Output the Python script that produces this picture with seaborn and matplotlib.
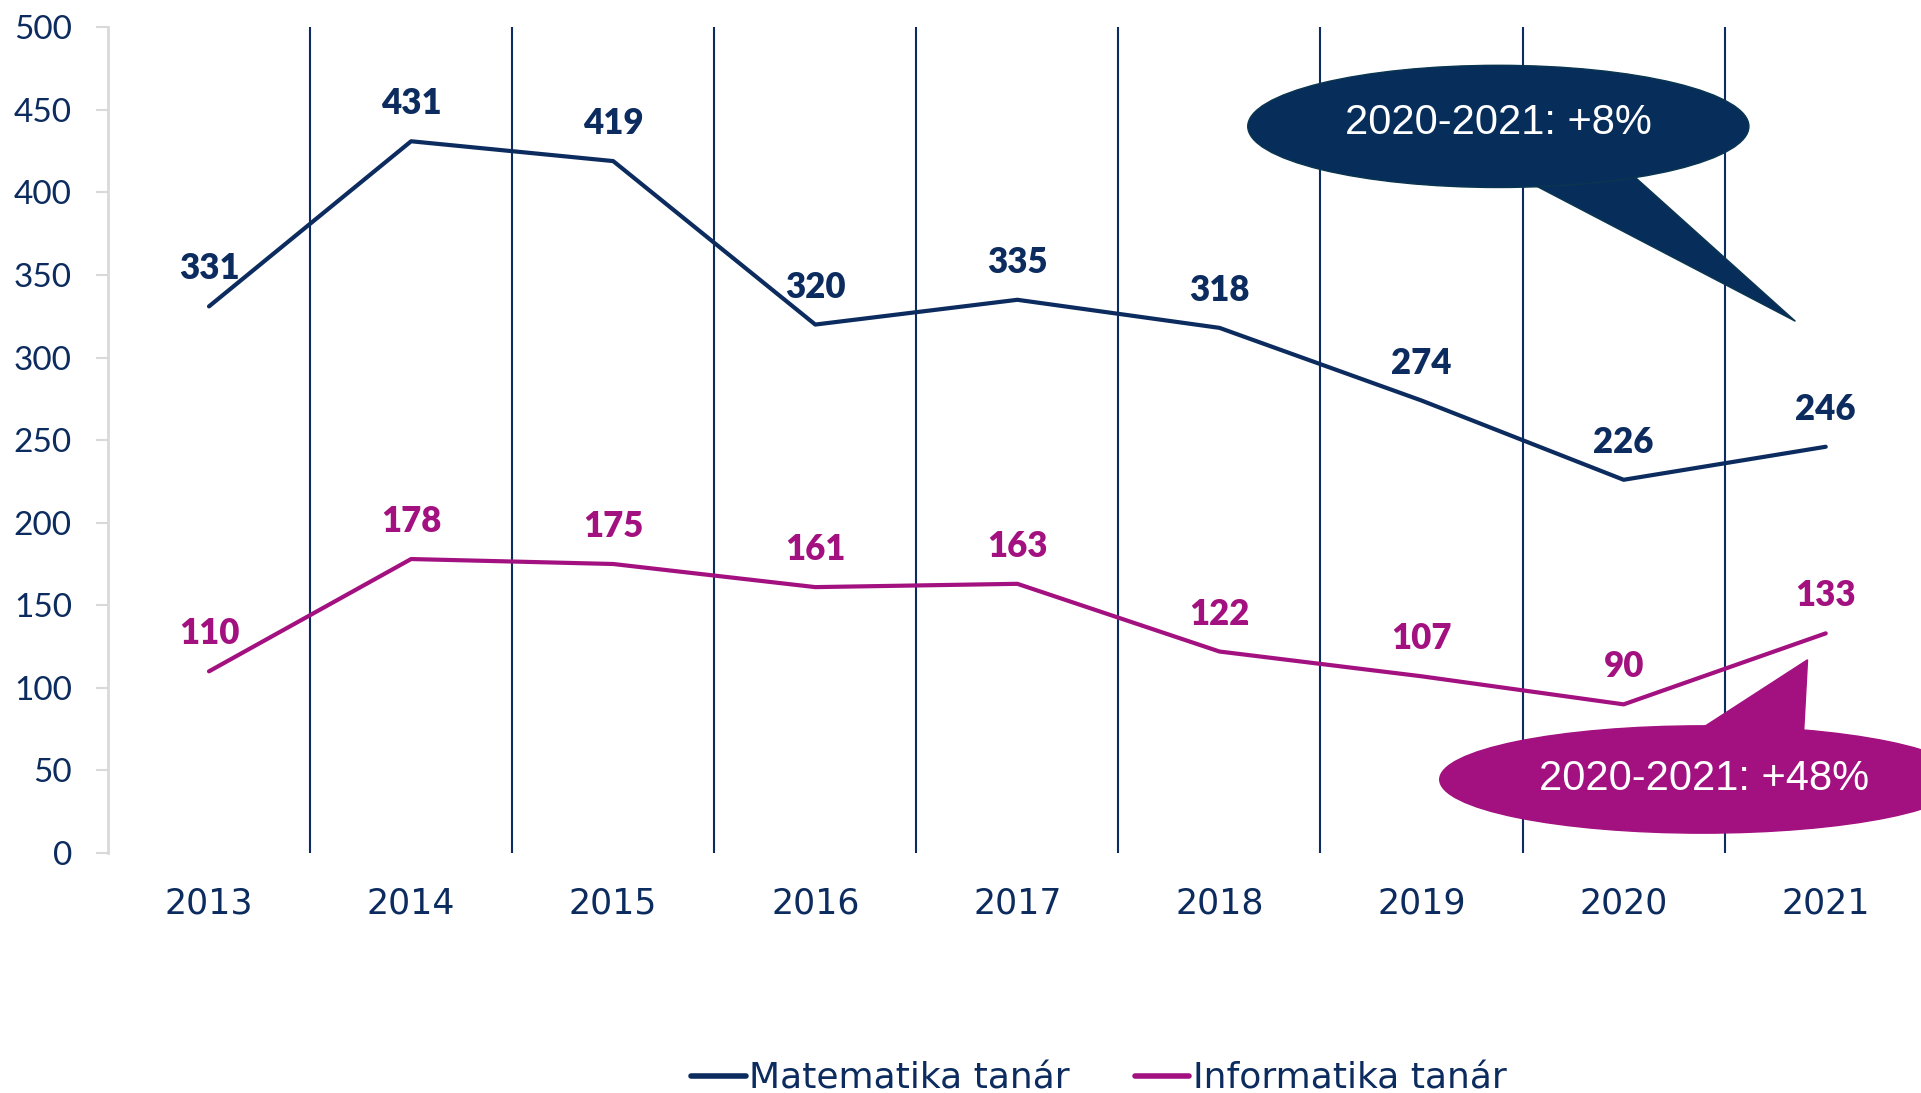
import matplotlib
matplotlib.use("Agg")
import matplotlib.pyplot as plt
import seaborn as sns
import pandas as pd
from matplotlib.patches import Ellipse, Polygon
from matplotlib.lines import Line2D

years = [2013, 2014, 2015, 2016, 2017, 2018, 2019, 2020, 2021]
matek = [331, 431, 419, 320, 335, 318, 274, 226, 246]
info = [110, 178, 175, 161, 163, 122, 107, 90, 133]
series_names = ["Matematika tanár", "Informatika tanár"]
callout_texts = ["2020-2021: +8%", "2020-2021: +48%"]
yticks = [0, 50, 100, 150, 200, 250, 300, 350, 400, 450, 500]

NAVY = "#0C2B5E"
CALL_NAVY = "#072E5A"
MAG = "#A3107F"

df = pd.DataFrame({
    "year": years * 2,
    "value": matek + info,
    "series": [series_names[0]] * len(years) + [series_names[1]] * len(years),
})

sns.set_theme(style="white")
plt.rcParams["font.family"] = ["Lato", "DejaVu Sans"]

fig = plt.figure(figsize=(19.21, 10.93), dpi=100)
ax = fig.add_axes([0.0562, 0.2196, 0.9468, 0.7554])

sns.lineplot(data=df, x="year", y="value", hue="series",
             palette={series_names[0]: NAVY, series_names[1]: MAG},
             linewidth=3.0, ax=ax, legend=False, zorder=3)

ax.set_xlim(2012.5, 2021.5)
ax.set_ylim(0, 500)
ax.set_xticks(years)
ax.set_xticklabels([str(y) for y in years])
ax.set_yticks(yticks)
ax.set_xlabel("")
ax.set_ylabel("")

# vertical separators between categories
for b in years[:-1]:
    ax.axvline(b + 0.5, color=NAVY, lw=1.5, zorder=1)

for s in ["top", "right", "bottom"]:
    ax.spines[s].set_visible(False)
ax.spines["left"].set_color("#D9D9D9")
ax.spines["left"].set_linewidth(2)

ax.tick_params(axis="y", colors="#D9D9D9", length=9, width=1.5, pad=17,
               labelcolor=NAVY, labelsize=24, left=True)
ax.tick_params(axis="x", length=0, pad=24, labelcolor=NAVY, labelsize=25)
for lab in ax.get_xticklabels():
    lab.set_fontfamily(["DejaVu Sans"])

# data labels
for xs, ys, c in [(years, matek, NAVY), (years, info, MAG)]:
    for x, y in zip(xs, ys):
        ax.annotate(str(y), (x, y), xytext=(0, 27), textcoords="offset points",
                    ha="center", va="center", fontsize=25, fontweight="heavy",
                    color=c, zorder=5)

# callout 1 (navy)
ax.add_patch(Polygon([(2019.55, 405), (2020.05, 410), (2020.85, 322)],
                     closed=True, fc=CALL_NAVY, ec="#0A3550", lw=1, zorder=4,
                     clip_on=False))
ax.add_patch(Ellipse((2019.38, 440), 2.48, 74, fc=CALL_NAVY, ec="#0A3550",
                     lw=1, zorder=4, clip_on=False))
ax.text(2019.38, 442, callout_texts[0], ha="center", va="center",
        color="white", fontsize=30, family=["Liberation Sans", "DejaVu Sans"],
        zorder=6)

# callout 2 (magenta)
ax.add_patch(Polygon([(2020.38, 75), (2020.89, 72), (2020.91, 117)],
                     closed=True, fc=MAG, ec=MAG, lw=1, zorder=4,
                     clip_on=False))
ax.add_patch(Ellipse((2020.39, 44.5), 2.6, 65, fc=MAG, ec=MAG,
                     lw=1, zorder=4, clip_on=False))
ax.text(2020.4, 44.5, callout_texts[1], ha="center", va="center",
        color="white", fontsize=30, family=["Liberation Sans", "DejaVu Sans"],
        zorder=6)

handles = [Line2D([0], [0], color=NAVY, lw=4),
           Line2D([0], [0], color=MAG, lw=4)]
fig.legend(handles, series_names, loc="center", bbox_to_anchor=(0.572, 0.013),
           ncol=2, frameon=False, labelcolor=NAVY,
           prop={"family": ["DejaVu Sans"], "size": 26},
           handlelength=1.5, handletextpad=0.1, columnspacing=1.8)

fig.savefig("out.png", dpi=100)
